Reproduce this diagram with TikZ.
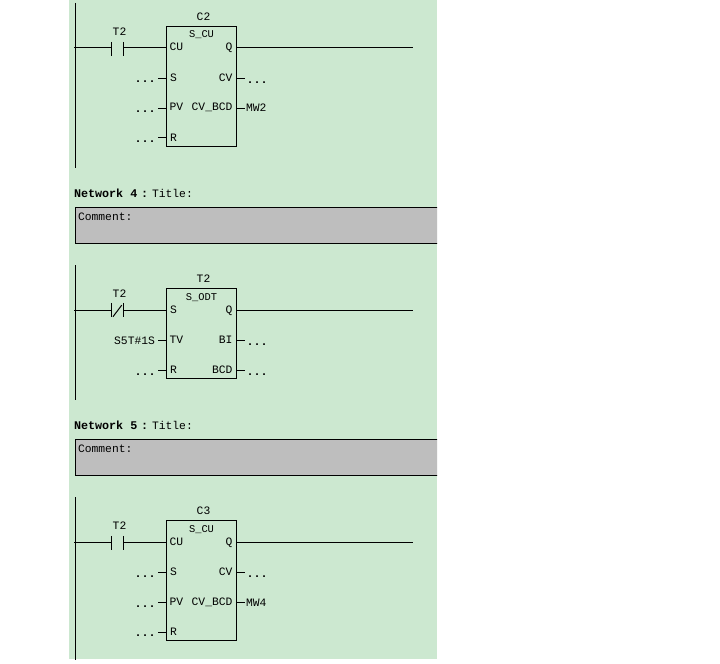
\documentclass[tikz,border=0pt]{standalone}
\usepackage{fontspec}
\setmainfont{Liberation Mono}
\definecolor{bggreen}{RGB}{204,232,208}
\definecolor{cmtgrey}{RGB}{190,190,190}
\tikzset{
  wire/.style={draw=black,line width=0.75pt},
  lbl/.style={inner sep=0pt,outer sep=0pt,font=\fontsize{8.5}{10}\selectfont,text=black},
  lw/.style={lbl,anchor=base west},
  le/.style={lbl,anchor=base east},
  lc/.style={lbl,anchor=base},
  small/.style={lbl,anchor=base,font=\fontsize{7.8}{10}\selectfont},
  dots/.style={lbl,anchor=base west,font=\fontsize{8.8}{10}\selectfont\bfseries},
  hdr/.style={lbl,anchor=base west,font=\fontsize{8.8}{10}\selectfont\bfseries},
  block/.style={wire,anchor=north west,inner sep=0pt,outer sep=0pt,minimum width=52.5pt},
  contact/.style={inner sep=0pt,outer sep=0pt,minimum width=8.7pt,minimum height=10.8pt},
  cmtbox/.style={wire,fill=cmtgrey,anchor=north west,inner sep=0pt,outer sep=0pt,minimum width=275pt,minimum height=27.2pt},
}
% #1 prefix, #2 y offset, #3 counter name, #4 output word
\newcommand{\ctublock}[4]{%
  \node[block,minimum height=90.2pt] (#1b) at (166.5,26.5+#2) {};
  \node[contact] (#1c) at (117.5,49+#2) {};
  \draw[wire] (#1c.north west) -- (#1c.south west) (#1c.north east) -- (#1c.south east);
  \coordinate (#1in) at (74,48+#2);
  \coordinate (#1cu) at (166.5,48+#2);
  \coordinate (#1q) at (236.5,48+#2);
  \coordinate (#1qe) at (413,48+#2);
  \draw[wire] (#1in) -- (#1in -| #1c.west) (#1cu -| #1c.east) -- (#1cu) (#1q) -- (#1qe);
  \coordinate (#1ra) at (75,3+#2);
  \coordinate (#1rb) at (75,168+#2);
  \draw[wire] (#1ra) -- (#1rb);
  \node[lc] (#1n) at (203.5,20.5+#2) {#3};
  \node[lc] (#1t) at (119.5,35.5+#2) {T2};
  \node[small] (#1f) at (201.5,38+#2) {S\_CU};
  \node[lw] (#1lcu) at (169.5,51+#2) {CU};
  \node[lw] (#1ls) at (170,81.5+#2) {S};
  \node[lw] (#1lpv) at (169.5,111+#2) {PV};
  \node[lw] (#1lr) at (170,141.5+#2) {R};
  \node[le] (#1lq) at (232.5,51+#2) {Q};
  \node[le] (#1lcv) at (232.5,81.5+#2) {CV};
  \node[le] (#1lbcd) at (232.5,111+#2) {CV\_BCD};
  \foreach \yy/\nm in {78.5/s,108.5/p,138/r}{
    \coordinate (#1a\nm) at (158,\yy+#2);
    \draw[wire] (#1a\nm) -- (#1a\nm -| #1b.west);
    \node[dots] (#1d\nm) at (134.5,\yy+4.5+#2) {...};
  }
  \foreach \yy/\nm in {78.5/v,108.5/w}{
    \coordinate (#1a\nm) at (245,\yy+#2);
    \draw[wire] (#1a\nm -| #1b.east) -- (#1a\nm);
  }
  \node[dots] (#1dv) at (246.5,83.5+#2) {...};
  \node[lw] (#1w) at (246,112+#2) {#4};
}
\begin{document}
\begin{tikzpicture}[x=0.75pt,y=-0.75pt]
\useasboundingbox (0,0) rectangle (720,663);
\fill[white] (0,0) rectangle (720,663);
\fill[bggreen] (69,0) rectangle (437,659);
\clip (69,0) rectangle (437,659);

\ctublock{a}{0}{C2}{MW2}

\node[hdr] (h4) at (74,197) {Network 4};
\node[hdr] (h4c) at (141,197) {:};
\node[lw] (h4t) at (152,197) {Title:};
\node[cmtbox] (b4) at (75,207.5) {};
\node[lw] (c4) at (78,220.5) {Comment:};

% timer network
\node[block,minimum height=67.8pt] (tb) at (166.5,288.5) {};
\node[contact] (tc) at (117.5,310) {};
\draw[wire] (tc.north west) -- (tc.south west) (tc.north east) -- (tc.south east);
\draw[wire] (tc.south west) ++(1.3,-0.5) -- ++(8.7,-11.5);
\coordinate (tin) at (74,310.5);
\coordinate (ts) at (166.5,310.5);
\coordinate (tq) at (236.5,310.5);
\coordinate (tqe) at (413,310.5);
\draw[wire] (tin) -- (tin -| tc.west) (ts -| tc.east) -- (ts) (tq) -- (tqe);
\coordinate (tra) at (75,265);
\coordinate (trb) at (75,400);
\draw[wire] (tra) -- (trb);
\node[lc] (tn) at (203.5,282.5) {T2};
\node[lc] (tt) at (119.5,297.5) {T2};
\node[small] (tf) at (201.5,300) {S\_ODT};
\node[lw] (tls) at (170,313) {S};
\node[lw] (tltv) at (169.5,343) {TV};
\node[lw] (tlr) at (170,373.5) {R};
\node[le] (tlq) at (232.5,313) {Q};
\node[le] (tlbi) at (232.5,343) {BI};
\node[le] (tlbcd) at (232.5,373.5) {BCD};
\coordinate (tatv) at (158,340.5);
\coordinate (tar) at (158,370.5);
\coordinate (tabi) at (245,340.5);
\coordinate (tabc) at (245,370.5);
\draw[wire] (tatv) -- (tatv -| tb.west) (tar) -- (tar -| tb.west);
\draw[wire] (tabi -| tb.east) -- (tabi) (tabc -| tb.east) -- (tabc);
\node[le] (ttv) at (155,344) {S5T\#1S};
\node[dots] (tdr) at (134.5,375.5) {...};
\node[dots] (tdbi) at (246.5,345.5) {...};
\node[dots] (tdbc) at (246.5,375.5) {...};

\node[hdr] (h5) at (74,429) {Network 5};
\node[hdr] (h5c) at (141,429) {:};
\node[lw] (h5t) at (152,429) {Title:};
\node[cmtbox] (b5) at (75,439.5) {};
\node[lw] (c5) at (78,452.5) {Comment:};

\ctublock{c}{494}{C3}{MW4}
\end{tikzpicture}
\end{document}
